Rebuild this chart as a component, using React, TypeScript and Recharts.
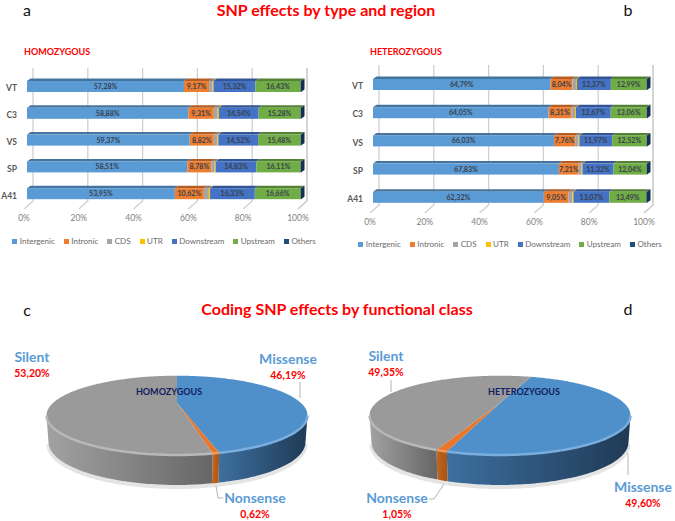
import React from "react"
import { Bar, BarChart, CartesianGrid, LabelList, Legend, Pie, PieChart, XAxis, YAxis } from "recharts"

const regions = ["VT", "C3", "VS", "SP", "A41"]
const effectNames = ["Intergenic", "Intronic", "CDS", "UTR", "Downstream", "Upstream", "Others"]
const percentTicks = [0, 20, 40, 60, 80, 100]

// one list per effect, same order as regions
const homIntergenic = [57.28, 58.88, 59.37, 58.51, 53.95]
const homIntronic = [9.17, 9.31, 8.82, 8.78, 10.62]
const homCds = [1.25, 1.4, 1.25, 1.2, 1.8]
const homUtr = [0.35, 0.4, 0.38, 0.37, 0.44]
const homDownstream = [15.32, 14.54, 14.52, 14.83, 16.33]
const homUpstream = [16.43, 15.28, 15.48, 16.11, 16.66]
const homOthers = [0.2, 0.19, 0.18, 0.2, 0.2]

const hetIntergenic = [64.79, 64.05, 66.03, 67.83, 62.32]
const hetIntronic = [8.04, 8.31, 7.76, 7.21, 9.05]
const hetCds = [1.25, 1.35, 1.2, 1.1, 1.4]
const hetUtr = [0.36, 0.38, 0.34, 0.32, 0.4]
const hetDownstream = [12.37, 12.67, 11.97, 11.32, 13.07]
const hetUpstream = [12.99, 13.06, 12.52, 12.04, 13.49]
const hetOthers = [0.2, 0.18, 0.18, 0.18, 0.27]

const pieNames = ["Missense", "Nonsense", "Silent"]
const homPie = [46.19, 0.62, 53.2]
const hetPie = [49.6, 1.05, 49.35]

const effectColors = ["#5b9bd5", "#ed7d31", "#a5a5a5", "#ffc000", "#4472c4", "#70ad47", "#1f4e79"]
const effectTopColors = ["#44749f", "#b25e25", "#7c7c7c", "#bf9000", "#335593", "#548235", "#173a5b"]
const labeledEffects = ["Intergenic", "Intronic", "Downstream", "Upstream"]

const pieTop = ["#5090ca", "#e8762b", "#9a9a9a"]
const pieRim = ["#79aede", "#f09a5c", "#b8b8b8"]
const pieWall: string[][] = [
  ["#3d6f9f", "#1f3a55"],
  ["#c0661f", "#a85518"],
  ["#a2a2a2", "#666666"],
]

const FONT = "Lato, sans-serif"
const fmt = (v: number) => `${v.toFixed(2).replace(".", ",")}%`

const buildRows = (lists: number[][]) =>
  regions.map((region, i) => {
    const row: Record<string, any> = { region }
    effectNames.forEach((name, k) => (row[name] = lists[k][i]))
    return row
  })

const homRows = buildRows([homIntergenic, homIntronic, homCds, homUtr, homDownstream, homUpstream, homOthers])
const hetRows = buildRows([hetIntergenic, hetIntronic, hetCds, hetUtr, hetDownstream, hetUpstream, hetOthers])

function Bar3D(props: any) {
  const { x, y, width, height, fill, topFill, last } = props
  const dx = 3.5
  const dy = 2.5
  return (
    <g>
      <polygon points={`${x},${y} ${x + dx},${y - dy} ${x + width + dx},${y - dy} ${x + width},${y}`} fill={topFill} />
      <rect x={x} y={y} width={width} height={height} fill={fill} />
      {last && (
        <polygon
          points={`${x + width},${y} ${x + width + dx},${y - dy} ${x + width + dx},${y + height - dy} ${x + width},${y + height}`}
          fill="#14304d"
        />
      )}
    </g>
  )
}

// back wall line plus the floor diagonal
function GridLine(props: any) {
  const { x1, y1, y2 } = props
  return (
    <polyline
      points={`${x1 + 6},${y1 - 5} ${x1 + 6},${y2 - 6} ${x1 - 3},${y2 + 2}`}
      fill="none"
      stroke="#cfcfcf"
      strokeWidth={1.3}
    />
  )
}

function EffectLegend({ payload }: any) {
  return (
    <div style={{ display: "flex", justifyContent: "center", alignItems: "center", height: 14, whiteSpace: "nowrap" }}>
      {(payload || []).map((item: any, i: number) => (
        <span
          key={item.value}
          style={{ display: "flex", alignItems: "center", marginRight: i === payload.length - 1 ? 0 : 9 }}
        >
          <span style={{ width: 5, height: 5, background: item.color, marginRight: 2.5 }} />
          <span style={{ color: "#6b6b6b" }}>{item.value}</span>
        </span>
      ))}
    </div>
  )
}

function StackedPanel({ rows, left, plotTop, plotBottom, legendY }: any) {
  const H = 260
  return (
    <div style={{ position: "absolute", left, top: 0 }}>
      <BarChart
        width={340}
        height={H}
        data={rows}
        layout="vertical"
        margin={{ top: plotTop, right: 39, left: 0, bottom: H - legendY - 7 }}
      >
        <CartesianGrid horizontal={false} vertical={(p: any) => <GridLine key={p.key} {...p} />} />
        <XAxis
          type="number"
          domain={[0, 100]}
          ticks={percentTicks}
          interval={0}
          height={legendY - 7 - plotBottom}
          axisLine={false}
          tickLine={false}
          tickSize={0}
          tickMargin={8}
          tickFormatter={(v) => `${v}%`}
          tick={{ fontSize: 8.5, fill: "#7f7f7f", fontFamily: FONT, dx: -3 }}
        />
        <YAxis
          type="category"
          dataKey="region"
          width={27}
          axisLine={false}
          tickLine={false}
          tickSize={0}
          tickMargin={10}
          tick={{ fontSize: 8.5, fontWeight: 700, fill: "#595959", fontFamily: FONT, dy: 2 }}
        />
        <Legend
          verticalAlign="bottom"
          itemSorter={null}
          content={<EffectLegend />}
          wrapperStyle={{ left: 0, width: 328, height: 14, fontSize: 8, fontFamily: FONT }}
        />
        {effectNames.map((name, k) => (
          <Bar
            key={name}
            dataKey={name}
            stackId="a"
            barSize={11}
            fill={effectColors[k]}
            isAnimationActive={false}
            shape={(p: any) => <Bar3D {...p} topFill={effectTopColors[k]} last={k === effectNames.length - 1} />}
          >
            {labeledEffects.includes(name) && (
              <LabelList
                dataKey={name}
                position="center"
                formatter={(v: any) => fmt(Number(v))}
                style={{ fontSize: 7, fontWeight: 700, fill: "#38404a", fontFamily: FONT }}
              />
            )}
          </Bar>
        ))}
      </BarChart>
    </div>
  )
}

// disc seen in perspective, numbers fitted on the reference ellipse
const PERSP = 0.311
const FLAT = 35.8
const project = (cx: number, cy: number, r: number, deg: number) => {
  const a = (deg * Math.PI) / 180
  const u = Math.cos(a)
  const v = -Math.sin(a)
  const w = 1 - PERSP * v
  return { x: cx + (r * u) / w, y: cy + (FLAT * v) / w, v }
}

function Slice3D(props: any) {
  const { cx, cy, outerRadius, startAngle, endAngle, index, chartId } = props
  const steps = Math.max(2, Math.ceil(Math.abs(endAngle - startAngle)))
  const arc = Array.from({ length: steps + 1 }, (_, i) =>
    project(cx, cy, outerRadius, startAngle + ((endAngle - startAngle) * i) / steps)
  )
  const front = arc.filter((p) => p.v >= PERSP)
  const lower = front.map((p) => ({
    x: cx + (p.x - cx) * 0.985,
    y: p.y + 25 + 5 * p.v,
  }))
  const topPoints = [`${cx},${cy}`, ...arc.map((p) => `${p.x},${p.y}`)].join(" ")
  const wallPoints = [...front, ...[...lower].reverse()].map((p) => `${p.x},${p.y}`).join(" ")
  const gradId = `wall-${chartId}-${index}`
  const xs = front.map((p) => p.x)
  return (
    <g>
      {front.length > 1 && (
        <>
          <defs>
            <linearGradient
              id={gradId}
              gradientUnits="userSpaceOnUse"
              x1={Math.min(...xs)}
              x2={Math.max(...xs)}
              y1={0}
              y2={0}
            >
              <stop offset="0%" stopColor={pieWall[index][0]} />
              <stop offset="100%" stopColor={pieWall[index][1]} />
            </linearGradient>
          </defs>
          <polyline
            points={lower.map((p) => `${p.x},${p.y + 2}`).join(" ")}
            fill="none"
            stroke="#e4e4e4"
            strokeWidth={4}
          />
          <polygon points={wallPoints} fill={`url(#${gradId})`} />
        </>
      )}
      <polygon points={topPoints} fill={pieTop[index]} />
      {front.length > 1 && (
        <polyline
          points={front.map((p) => `${p.x},${p.y}`).join(" ")}
          fill="none"
          stroke={pieRim[index]}
          strokeWidth={2.5}
        />
      )}
    </g>
  )
}

function PieLabel(props: any) {
  const { index, name, value, places } = props
  const at = places[index]
  return (
    <g fontFamily={FONT} fontWeight={700} textAnchor="middle">
      <polyline points={at.line} fill="none" stroke="#b5b5b5" strokeWidth={1} />
      <text x={at.x} y={at.y} dominantBaseline="central" fontSize={14} fill="#5b9bd5">
        {name}
      </text>
      <text x={at.x} y={at.y + 17} dominantBaseline="central" fontSize={10.5} fill="#fe0000">
        {fmt(value)}
      </text>
    </g>
  )
}

function PiePanel({ values, left, cx, startAngle, places, chartId }: any) {
  const data = pieNames.map((name, i) => ({ name, value: values[i] }))
  return (
    <div style={{ position: "absolute", left, top: 280 }}>
      <PieChart width={340} height={241} margin={{ top: 0, right: 0, bottom: 0, left: 0 }}>
        <Pie
          data={data}
          dataKey="value"
          nameKey="name"
          cx={cx}
          cy={123}
          outerRadius={124}
          startAngle={startAngle}
          endAngle={startAngle - 360}
          stroke="none"
          isAnimationActive={false}
          labelLine={false}
          label={(p: any) => <PieLabel {...p} places={places} />}
          shape={(p: any) => <Slice3D {...p} chartId={chartId} />}
        />
      </PieChart>
    </div>
  )
}

const homPlaces = [
  { x: 288, y: 78, line: "300,102 300,118" },
  { x: 255, y: 217, line: "216,206 218,218 223,218" },
  { x: 32, y: 76, line: "" },
]
const hetPlaces = [
  { x: 303, y: 206, line: "288,173 288,195" },
  { x: 57, y: 217, line: "89,219 94,219 104,204" },
  { x: 46, y: 75, line: "51,100 51,112" },
]

function Caption({ x, y, size, color, weight, anchor = "center", children }: any) {
  const shift = anchor === "center" ? "-50%" : "0"
  return (
    <div
      style={{
        position: "absolute",
        left: x,
        top: y,
        transform: `translate(${shift}, -50%)`,
        fontFamily: FONT,
        fontSize: size,
        color,
        fontWeight: weight,
        whiteSpace: "nowrap",
        zIndex: 5,
      }}
    >
      {children}
    </div>
  )
}

export default function App() {
  return (
    <div style={{ position: "absolute", left: 0, top: 0, width: 675, height: 521, background: "#fff", overflow: "hidden" }}>
      <StackedPanel rows={homRows} left={0} plotTop={73} plotBottom={207} legendY={241} />
      <StackedPanel rows={hetRows} left={346} plotTop={70} plotBottom={211} legendY={244} />
      <PiePanel values={homPie} left={0} cx={177} startAngle={90} places={homPlaces} chartId="hom" />
      <PiePanel values={hetPie} left={340} cx={160} startAngle={71} places={hetPlaces} chartId="het" />

      <Caption x={326} y={9} size={16} color="#fe0000" weight={700}>SNP effects by type and region</Caption>
      <Caption x={337} y={308} size={16} color="#fe0000" weight={700}>Coding SNP effects by functional class</Caption>
      <Caption x={27} y={9} size={16} color="#111">a</Caption>
      <Caption x={628} y={9} size={16} color="#111">b</Caption>
      <Caption x={27} y={309} size={16} color="#111">c</Caption>
      <Caption x={628} y={308} size={16} color="#111">d</Caption>
      <Caption x={24} y={51} size={9} color="#fe0000" weight={700} anchor="left">HOMOZYGOUS</Caption>
      <Caption x={370} y={51} size={9} color="#fe0000" weight={700} anchor="left">HETEROZYGOUS</Caption>
      <Caption x={169} y={391} size={9} color="#10205f" weight={700}>HOMOZYGOUS</Caption>
      <Caption x={524} y={391} size={9} color="#10205f" weight={700}>HETEROZYGOUS</Caption>
    </div>
  )
}
